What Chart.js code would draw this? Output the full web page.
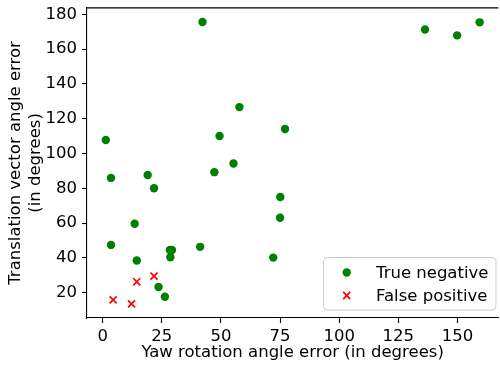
<!DOCTYPE html>
<html>
<head>
<meta charset="utf-8">
<script src="https://cdn.jsdelivr.net/npm/chart.js@4/dist/chart.umd.min.js"></script>
<style>
  html, body { margin: 0; padding: 0; background: #fff; overflow: hidden; }
  #wrap { position: relative; width: 505px; height: 373px; margin-top: -7px; }
</style>
</head>
<body>
<div id="wrap"><canvas id="chart"></canvas></div>
<script>
// Yaw error vs. translation error per sample
const trueNegYaw = [42.2, 1.3, 49.4, 57.8, 77.1, 3.5, 19.0, 21.7, 47.2, 55.3, 75.1, 75.0, 13.5,
                    3.5, 28.4, 29.3, 28.6, 41.2, 72.1, 14.4, 23.6, 26.3, 136.3, 149.9, 159.4];
const trueNegTrans = [175.6, 107.8, 110.1, 126.7, 114.1, 86.0, 87.7, 80.1, 89.3, 94.3, 75.0, 63.1, 59.7,
                      47.5, 44.6, 44.6, 40.4, 46.4, 40.2, 38.5, 23.3, 17.7, 171.3, 167.9, 175.4];
const falsePosYaw = [4.4, 12.2, 14.4, 21.7];
const falsePosTrans = [15.9, 13.6, 26.3, 29.6];

const xTicks = [0, 25, 50, 75, 100, 125, 150];
const yTicks = [20, 40, 60, 80, 100, 120, 140, 160, 180];

const toPoints = (xs, ys) => xs.map((x, i) => ({ x: x, y: ys[i] }));

const FONT = 'DejaVu Sans';
const FSIZE = 16.5;

// matplotlib-ish frame: top spine + legend box in the lower right
const framePlugin = {
    id: 'frame',
    afterDraw(chart) {
        const ctx = chart.ctx;
        const a = chart.chartArea;
        ctx.save();
        ctx.strokeStyle = '#000';
        ctx.lineWidth = 1.1;
        ctx.beginPath();
        ctx.moveTo(a.left, a.top);
        ctx.lineTo(a.right, a.top);
        ctx.stroke();

        // legend, placed relative to the plot's bottom-right corner
        const bx = 323.5, bw = 172.5, bh = 52.5, r = 4;
        const by = a.bottom - 60.5;
        ctx.beginPath();
        ctx.moveTo(bx + r, by);
        ctx.arcTo(bx + bw, by, bx + bw, by + bh, r);
        ctx.arcTo(bx + bw, by + bh, bx, by + bh, r);
        ctx.arcTo(bx, by + bh, bx, by, r);
        ctx.arcTo(bx, by, bx + bw, by, r);
        ctx.closePath();
        ctx.fillStyle = 'rgba(255,255,255,0.8)';
        ctx.fill();
        ctx.strokeStyle = '#cccccc';
        ctx.lineWidth = 1;
        ctx.stroke();

        const mx = 346.7;
        const rows = [by + 15, by + 38];
        chart.data.datasets.forEach((d, i) => {
            const my = rows[i];
            ctx.fillStyle = d.backgroundColor;
            ctx.strokeStyle = d.borderColor;
            ctx.lineWidth = d.borderWidth;
            ctx.beginPath();
            if (d.pointStyle === 'circle') {
                ctx.arc(mx, my, d.pointRadius, 0, Math.PI * 2);
                ctx.fill();
            } else {
                const h = d.pointRadius * Math.SQRT1_2;
                ctx.moveTo(mx - h, my - h);
                ctx.lineTo(mx + h, my + h);
                ctx.moveTo(mx - h, my + h);
                ctx.lineTo(mx + h, my - h);
                ctx.stroke();
            }
            ctx.fillStyle = '#000';
            ctx.font = FSIZE + 'px "' + FONT + '"';
            ctx.textAlign = 'left';
            ctx.textBaseline = 'middle';
            ctx.fillText(d.label, 376, my + 1);
        });
        ctx.restore();
    }
};

new Chart(document.getElementById('chart'), {
    type: 'scatter',
    data: {
        datasets: [
            {
                label: 'True negative',
                data: toPoints(trueNegYaw, trueNegTrans),
                pointStyle: 'circle',
                pointRadius: 4.2,
                pointHoverRadius: 4.2,
                backgroundColor: 'green',
                borderColor: 'green',
                borderWidth: 0
            },
            {
                label: 'False positive',
                data: toPoints(falsePosYaw, falsePosTrans),
                pointStyle: 'crossRot',
                pointRadius: 5,
                pointHoverRadius: 5,
                backgroundColor: 'red',
                borderColor: 'red',
                borderWidth: 1.7
            }
        ]
    },
    options: {
        responsive: true,
        maintainAspectRatio: false,
        animation: false,
        events: [],
        layout: { padding: 0 },
        plugins: {
            legend: { display: false },
            tooltip: { enabled: false }
        },
        scales: {
            x: {
                type: 'linear',
                min: -6.65,
                max: 167.3,
                afterBuildTicks: s => { s.ticks = xTicks.map(v => ({ value: v })); },
                afterFit: s => { s.height = 48; },
                grid: { drawOnChartArea: false, tickLength: 5, tickColor: '#000', tickWidth: 1.1 },
                border: { color: '#000', width: 1.1 },
                ticks: {
                    autoSkip: false, maxRotation: 0, padding: 4,
                    color: '#000', font: { family: FONT, size: FSIZE }
                },
                title: {
                    display: true,
                    text: 'Yaw rotation angle error (in degrees)',
                    color: '#000',
                    font: { family: FONT, size: FSIZE },
                    padding: { top: 0, bottom: 3 }
                }
            },
            y: {
                type: 'linear',
                min: 5.5,
                max: 183.7,
                afterBuildTicks: s => { s.ticks = yTicks.map(v => ({ value: v })); },
                afterFit: s => { s.width = 87; },
                grid: { drawOnChartArea: false, tickLength: 5, tickColor: '#000', tickWidth: 1.1 },
                border: { color: '#000', width: 1.1 },
                ticks: {
                    autoSkip: false, padding: 5,
                    color: '#000', font: { family: FONT, size: FSIZE }
                },
                title: {
                    display: true,
                    text: ['Translation vector angle error', '(in degrees)'],
                    color: '#000',
                    font: { family: FONT, size: FSIZE },
                    padding: { top: 6, bottom: 0 }
                }
            }
        }
    },
    plugins: [framePlugin]
});
</script>
</body>
</html>
